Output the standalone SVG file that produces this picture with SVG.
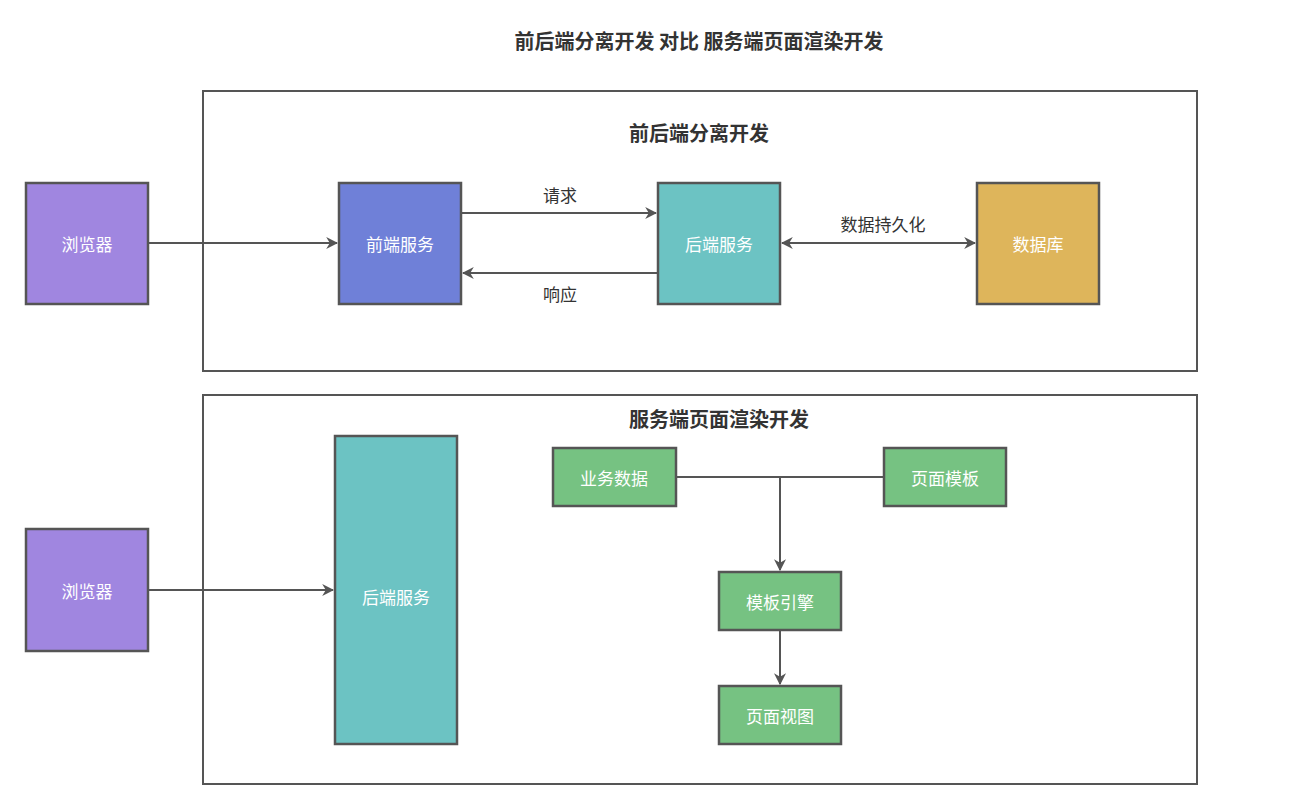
<svg xmlns="http://www.w3.org/2000/svg" width="1294" height="811" viewBox="0 0 1294 811">
<defs>
<marker id="arr" viewBox="0 0 10 10" refX="9" refY="5" markerWidth="12" markerHeight="12" markerUnits="userSpaceOnUse" orient="auto-start-reverse">
<path d="M0,0 L10,5 L0,10 L3,5 Z" fill="#555"/>
</marker>
<style>
text{font-family:"Noto Sans CJK SC","Liberation Sans",sans-serif;}
.box{stroke:#555;stroke-width:2.5;}
.lbl{fill:#fff;font-size:17px;text-anchor:middle;dominant-baseline:central;}
.clbl{fill:#333;font-size:17px;text-anchor:middle;dominant-baseline:central;}
.ttl{fill:#333;font-size:20px;font-weight:bold;text-anchor:middle;dominant-baseline:central;}
.ln{stroke:#555;stroke-width:2;fill:none;}
.cont{fill:none;stroke:#555;stroke-width:2;}
</style>
</defs>
<rect width="1294" height="811" fill="#fff"/>
<text class="ttl" x="699" y="40">前后端分离开发 对比 服务端页面渲染开发</text>
<g id="container1"><rect class="cont" x="203" y="91" width="994" height="280"/><text class="ttl" x="699" y="132">前后端分离开发</text></g>
<g id="container2"><rect class="cont" x="203" y="395" width="994" height="389"/><text class="ttl" x="719" y="418">服务端页面渲染开发</text></g>
<g id="connectors">
<line class="ln" x1="148" y1="243" x2="337" y2="243" marker-end="url(#arr)"/>
<line class="ln" x1="461" y1="213" x2="656" y2="213" marker-end="url(#arr)"/>
<line class="ln" x1="658" y1="273" x2="463" y2="273" marker-end="url(#arr)"/>
<line class="ln" x1="782" y1="243" x2="975" y2="243" marker-start="url(#arr)" marker-end="url(#arr)"/>
<text class="clbl" x="560" y="194">请求</text>
<text class="clbl" x="560" y="293">响应</text>
<text class="clbl" x="883" y="223">数据持久化</text>
<line class="ln" x1="148" y1="590" x2="333" y2="590" marker-end="url(#arr)"/>
<line class="ln" x1="676" y1="477" x2="884" y2="477"/>
<line class="ln" x1="780" y1="477" x2="780" y2="570" marker-end="url(#arr)"/>
<line class="ln" x1="780" y1="630" x2="780" y2="684" marker-end="url(#arr)"/>
</g>
<g id="browser1"><rect class="box" x="26" y="183" width="122" height="121" fill="#a086e0"/><text class="lbl" x="87" y="243">浏览器</text></g>
<g id="frontend"><rect class="box" x="339" y="183" width="122" height="121" fill="#6f80d8"/><text class="lbl" x="400" y="243">前端服务</text></g>
<g id="backend1"><rect class="box" x="658" y="183" width="122" height="121" fill="#6cc3c3"/><text class="lbl" x="719" y="243">后端服务</text></g>
<g id="database"><rect class="box" x="977" y="183" width="122" height="121" fill="#deb55b"/><text class="lbl" x="1038" y="243">数据库</text></g>
<g id="browser2"><rect class="box" x="26" y="529" width="122" height="122" fill="#a086e0"/><text class="lbl" x="87" y="590">浏览器</text></g>
<g id="backend2"><rect class="box" x="335" y="436" width="122" height="308" fill="#6cc3c3"/><text class="lbl" x="396" y="596">后端服务</text></g>
<g id="bizdata"><rect class="box" x="553" y="448" width="123" height="58" fill="#76c282"/><text class="lbl" x="614" y="477">业务数据</text></g>
<g id="pagetpl"><rect class="box" x="884" y="448" width="122" height="58" fill="#76c282"/><text class="lbl" x="945" y="477">页面模板</text></g>
<g id="engine"><rect class="box" x="719" y="572" width="122" height="58" fill="#76c282"/><text class="lbl" x="780" y="601">模板引擎</text></g>
<g id="view"><rect class="box" x="719" y="686" width="122" height="58" fill="#76c282"/><text class="lbl" x="780" y="715">页面视图</text></g>
</svg>
